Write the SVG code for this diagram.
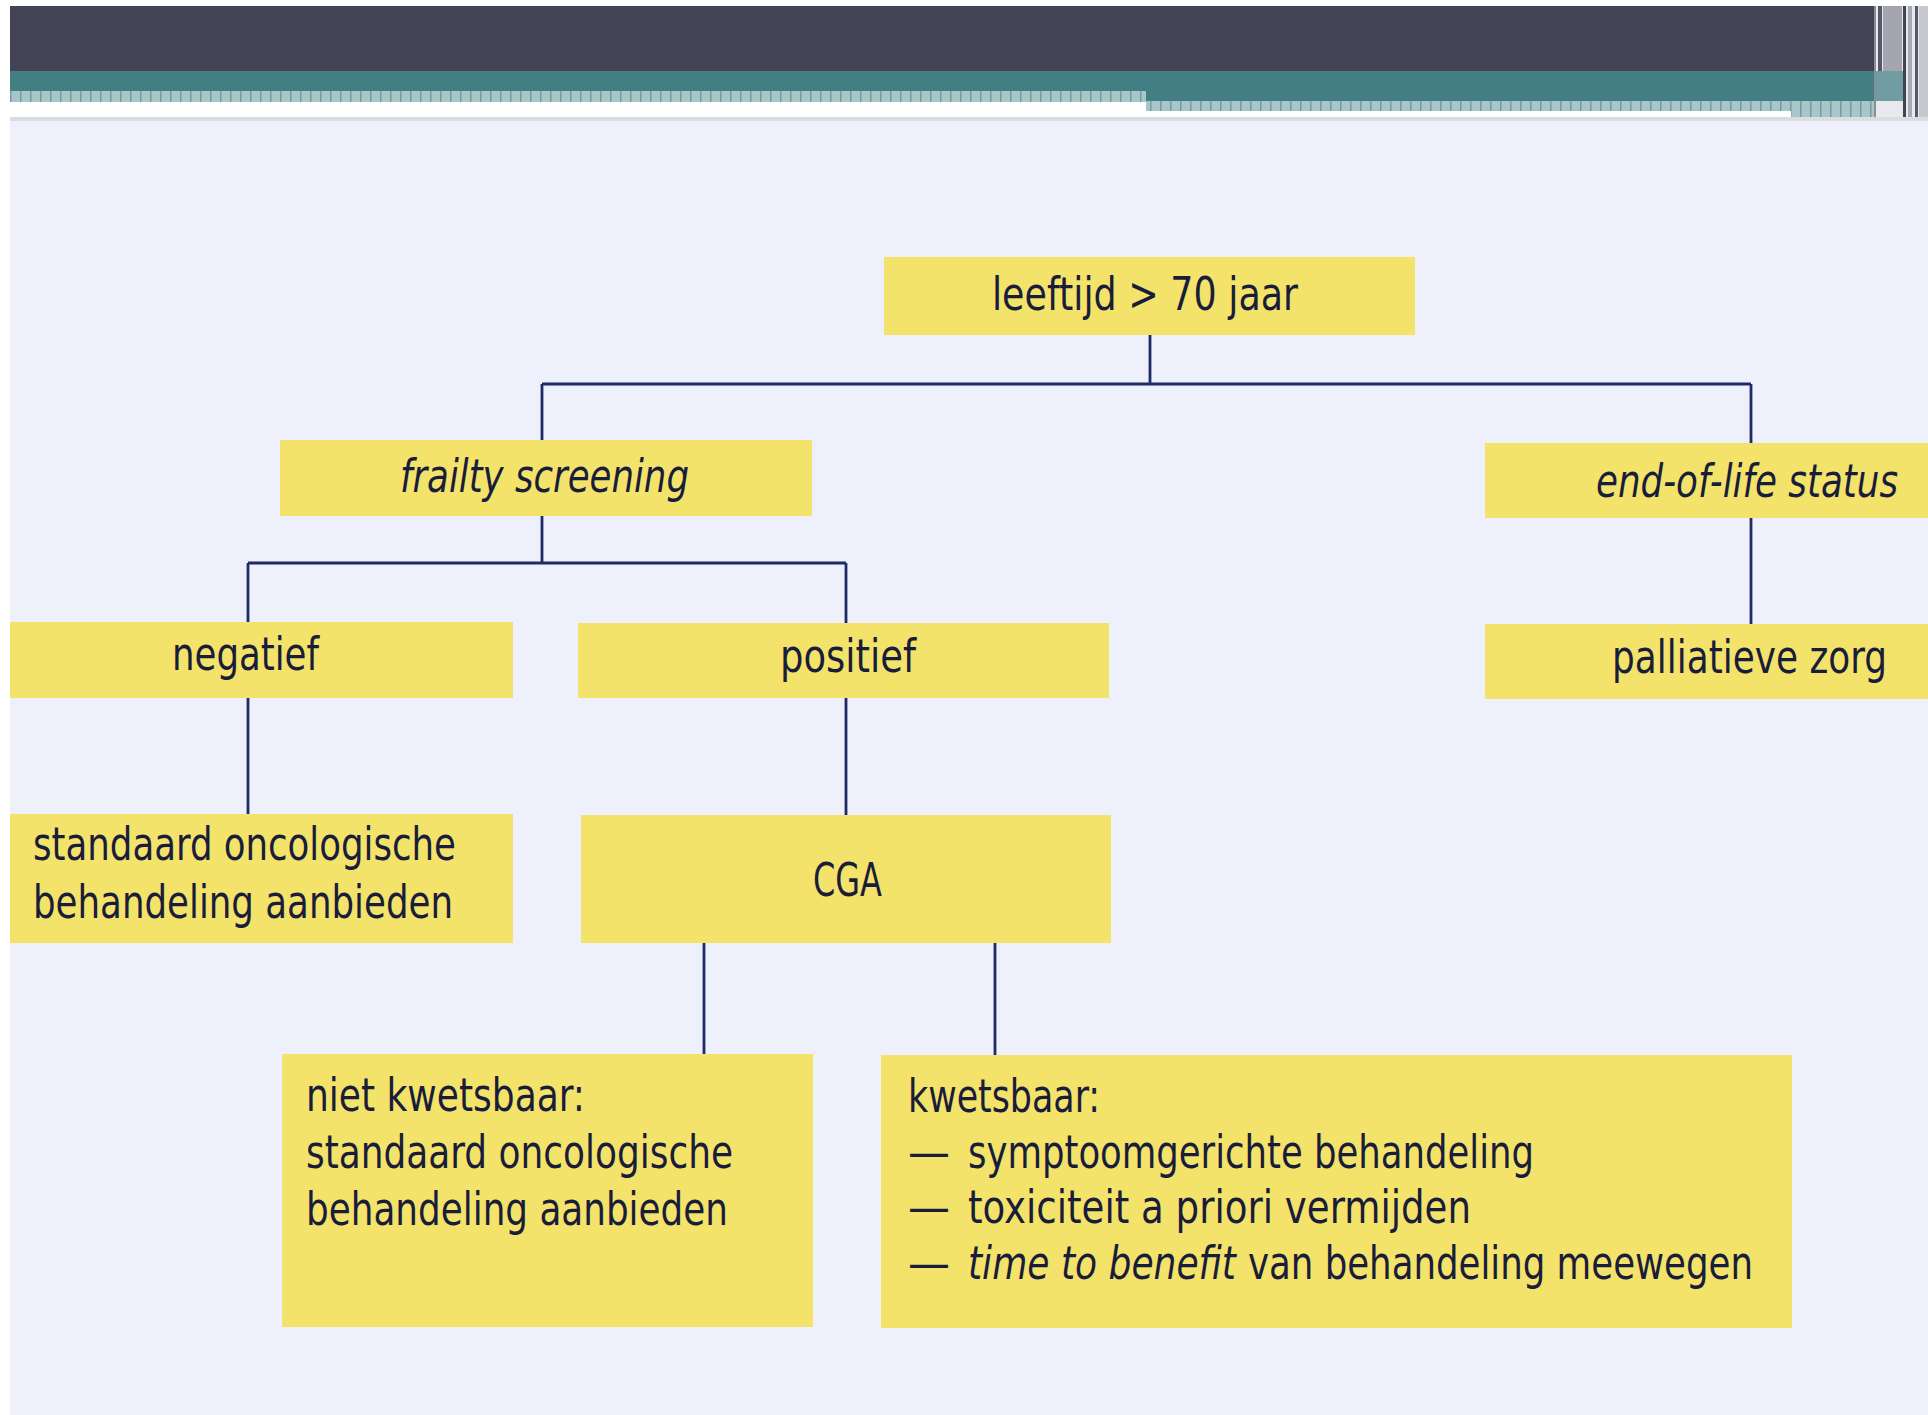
<svg xmlns="http://www.w3.org/2000/svg" width="1928" height="1415" viewBox="0 0 1928 1415">
<defs>
<style>
.box{fill:#F3E36A}
.t{font-family:'DejaVu Sans Condensed','DejaVu Sans',sans-serif;font-stretch:condensed;font-size:46px;fill:#1a1d3a}
.i{font-style:italic}
.c{fill:none;stroke:#1f2b66;stroke-width:2.8}
</style>
<pattern id="hatch" width="10" height="8" patternUnits="userSpaceOnUse">
<rect width="10" height="8" fill="#A8C6C7"/>
<rect width="1.5" height="8" fill="#6E9FA2"/>
</pattern>
</defs>
<g id="page">
<rect x="0" y="0" width="1928" height="1415" fill="#ffffff"/>
<rect x="10" y="121" width="1918" height="1294" fill="#EEF0FC"/>
<rect x="10" y="117" width="1918" height="4" fill="#DCDCDE"/>
<rect x="10" y="6" width="1864" height="65" fill="#424354"/>
<rect x="10" y="71" width="1864" height="20" fill="#447E85"/>
<rect x="1146" y="91" width="728" height="10" fill="#447E85"/>
<rect x="10" y="91" width="1136" height="11" fill="url(#hatch)"/>
<rect x="1146" y="101" width="782" height="16" fill="url(#hatch)"/>
<rect x="1146" y="111" width="645" height="6" fill="#ffffff"/>
<rect x="1874" y="6" width="54" height="111" fill="#E8E9EC"/>
<rect x="1874" y="71" width="31" height="30" fill="#6F9DA1"/>
<rect x="1874" y="6" width="2" height="111" fill="#8A8C98"/>
<rect x="1878" y="6" width="4" height="65" fill="#55576A"/>
<rect x="1883" y="6" width="19" height="65" fill="#A4A5AF"/>
<rect x="1903" y="6" width="3" height="111" fill="#424354"/>
<rect x="1908" y="6" width="4" height="111" fill="#A9AAB2"/>
<rect x="1915" y="6" width="3" height="111" fill="#55576A"/>
<rect x="1919" y="6" width="9" height="111" fill="#C6C7CD"/>
</g>
<g id="connectors">
<path class="c" d="M1150 334V384M542 384H1751M542 384V440M1751 384V443"/>
<path class="c" d="M542 516V563M248 563H846M248 563V622M846 563V623"/>
<path class="c" d="M1751 518V625"/>
<path class="c" d="M248 698V814M846 698V815"/>
<path class="c" d="M704 943V1054M995 943V1055"/>
</g>
<g id="node-leeftijd">
<rect class="box" x="884" y="257" width="531" height="78"/>
<text class="t" x="992" y="310" textLength="306" lengthAdjust="spacingAndGlyphs">leeftijd &gt; 70 jaar</text>
</g>
<g id="node-frailty">
<rect class="box" x="280" y="440" width="532" height="76"/>
<text class="t i" x="400" y="492" textLength="289" lengthAdjust="spacingAndGlyphs">frailty screening</text>
</g>
<g id="node-endoflife">
<rect class="box" x="1485" y="443" width="443" height="75"/>
<text class="t i" x="1596" y="497" textLength="302" lengthAdjust="spacingAndGlyphs">end-of-life status</text>
</g>
<g id="node-negatief">
<rect class="box" x="10" y="622" width="503" height="76"/>
<text class="t" x="172" y="670" textLength="147" lengthAdjust="spacingAndGlyphs">negatief</text>
</g>
<g id="node-positief">
<rect class="box" x="578" y="623" width="531" height="75"/>
<text class="t" x="780" y="672" textLength="136" lengthAdjust="spacingAndGlyphs">positief</text>
</g>
<g id="node-palliatief">
<rect class="box" x="1485" y="624" width="443" height="75"/>
<text class="t" x="1612" y="673" textLength="275" lengthAdjust="spacingAndGlyphs">palliatieve zorg</text>
</g>
<g id="node-standaard">
<rect class="box" x="10" y="814" width="503" height="129"/>
<text class="t" x="33" y="860" textLength="423" lengthAdjust="spacingAndGlyphs">standaard oncologische</text>
<text class="t" x="33" y="918" textLength="420" lengthAdjust="spacingAndGlyphs">behandeling aanbieden</text>
</g>
<g id="node-cga">
<rect class="box" x="581" y="815" width="530" height="128"/>
<text class="t" x="813" y="896" textLength="69" lengthAdjust="spacingAndGlyphs">CGA</text>
</g>
<g id="node-nietkwetsbaar">
<rect class="box" x="282" y="1054" width="531" height="273"/>
<text class="t" x="306" y="1111" textLength="279" lengthAdjust="spacingAndGlyphs">niet kwetsbaar:</text>
<text class="t" x="306" y="1168" textLength="427" lengthAdjust="spacingAndGlyphs">standaard oncologische</text>
<text class="t" x="306" y="1225" textLength="422" lengthAdjust="spacingAndGlyphs">behandeling aanbieden</text>
</g>
<g id="node-kwetsbaar">
<rect class="box" x="881" y="1055" width="911" height="273"/>
<text class="t" x="908" y="1112" textLength="192" lengthAdjust="spacingAndGlyphs">kwetsbaar:</text>
<text class="t" x="908" y="1168" textLength="42" lengthAdjust="spacingAndGlyphs">—</text>
<text class="t" x="968" y="1168" textLength="566" lengthAdjust="spacingAndGlyphs">symptoomgerichte behandeling</text>
<text class="t" x="908" y="1223" textLength="42" lengthAdjust="spacingAndGlyphs">—</text>
<text class="t" x="968" y="1223" textLength="503" lengthAdjust="spacingAndGlyphs">toxiciteit a priori vermijden</text>
<text class="t" x="908" y="1279" textLength="42" lengthAdjust="spacingAndGlyphs">—</text>
<text class="t i" x="968" y="1279" textLength="268" lengthAdjust="spacingAndGlyphs">time to benefit</text>
<text class="t" x="1248" y="1279" textLength="505" lengthAdjust="spacingAndGlyphs">van behandeling meewegen</text>
</g>
</svg>
